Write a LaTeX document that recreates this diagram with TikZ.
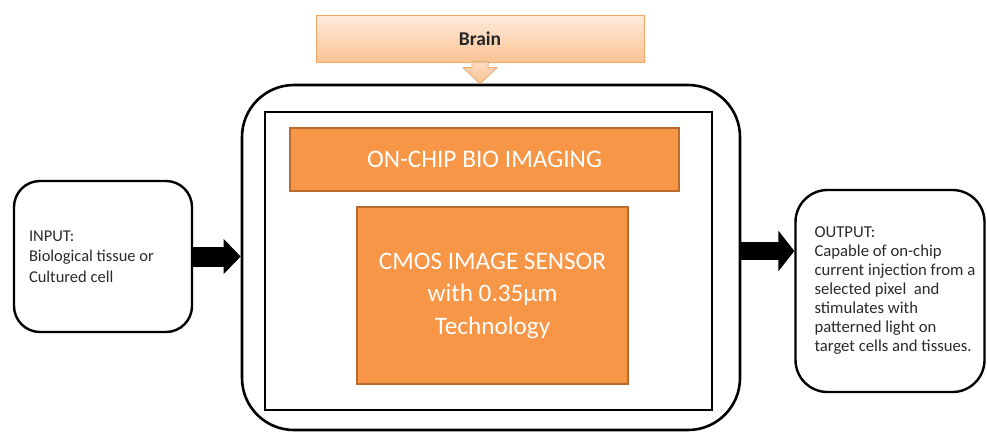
\documentclass[tikz,border=0pt]{standalone}
\usepackage{fontspec}
\setmainfont{Carlito}
\usetikzlibrary{calc,arrows.meta}

\definecolor{chiporange}{HTML}{F79646}
\definecolor{chipedge}{HTML}{B96A2C}
\definecolor{peachtop}{HTML}{FEEBDC}
\definecolor{peachbot}{HTML}{FBC393}
\definecolor{peachedge}{HTML}{F6A565}
\definecolor{iotextcol}{HTML}{2A2A2A}

\tikzset{
  orangebox/.style={draw=chipedge, line width=1.6pt, fill=chiporange,
    text=white, align=center, inner sep=0pt},
  iobox/.style={draw=black, line width=2.4pt, rounded corners=26pt, inner sep=0pt},
  iotext/.style={text=iotextcol, align=left, inner sep=0pt,
    font=\fontsize{16.5}{20.3}\selectfont},
}

\begin{document}
\begin{tikzpicture}[x=1pt, y=-1pt]
  \useasboundingbox (0,0) rectangle (987,432);

  % system frame
  \node[draw=black, line width=2.6pt, rounded corners=52pt, minimum width=498pt,
        minimum height=345pt, inner sep=0pt] (outer) at (491,257.5) {};
  \node[draw=black, line width=2.6pt, minimum width=447pt, minimum height=298pt,
        inner sep=0pt] (inner) at (488.5,261) {};

  % chip blocks
  \node[orangebox, minimum width=389pt, minimum height=63pt,
        font=\fontsize{25.3}{30}\selectfont] (bio) at (484.5,159.5) {ON-CHIP BIO IMAGING};
  \node[orangebox, minimum width=271pt, minimum height=177pt,
        font=\fontsize{25.2}{32.5}\selectfont] (cmos) at (492.5,295.5)
        {CMOS IMAGE SENSOR\\with 0.35µm\\Technology};

  % brain box and its arrow
  \node[draw=peachedge, line width=0.9pt, top color=peachtop, bottom color=peachbot,
        minimum width=328pt, minimum height=47pt, inner sep=0pt,
        font=\bfseries\fontsize{19.5}{22}\selectfont, text=black!85] (brain) at (480,38.5) {Brain};
  \filldraw[draw=peachedge, line width=0.7pt, top color=peachtop!60!peachbot, bottom color=peachbot]
    ($(brain.south)+(-8,-0.5)$) -- ($(brain.south)+(8,-0.5)$) -- ($(brain.south)+(8,5)$)
    -- ($(brain.south)+(17,5)$) -- (brain.south |- outer.north)
    -- ($(brain.south)+(-17,5)$) -- ($(brain.south)+(-8,5)$) -- cycle;

  % input
  \node[iobox, minimum width=178pt, minimum height=151pt] (in) at (103,256.5) {};
  \node[iotext, anchor=west] (intext) at ([xshift=16pt]in.west)
    {INPUT:\\Biological tissue or\\Cultured cell};

  % output
  \node[iobox, rounded corners=32pt, minimum width=189pt, minimum height=202pt] (out) at (890,291) {};
  \node[iotext, anchor=west, font=\fontsize{16.7}{19}\selectfont] (outtext) at ([xshift=20pt]out.west)
    {OUTPUT:\\Capable of on-chip\\current injection from a\\selected pixel~~and\\stimulates with\\patterned light on\\target cells and tissues.};

  % flow arrows
  \draw[line width=20pt, -{Triangle[length=17pt, width=34pt]}]
    (in.east) -- (in.east -| outer.west);
  \draw[line width=18pt, -{Triangle[length=16pt, width=40pt]}]
    ([yshift=40pt]out.west -| outer.east) -- ([yshift=40pt]out.west);
\end{tikzpicture}
\end{document}
